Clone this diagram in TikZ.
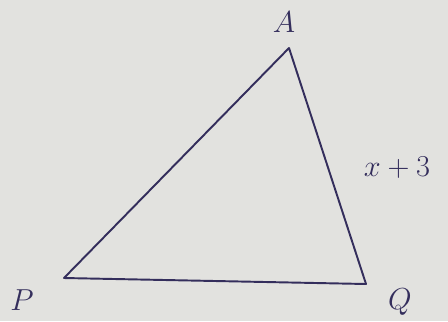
\documentclass[tikz,border=0pt]{standalone}
\usepackage{tikz}
\usetikzlibrary{calc}
\definecolor{papel}{RGB}{226,226,223}
\definecolor{tinta}{RGB}{52,46,92}

\begin{document}
\begin{tikzpicture}[x=0.02cm, y=-0.02cm, font=\LARGE]
        \useasboundingbox[fill=papel] (0,0) rectangle (448,321);
        % vertices del triangulo
        \coordinate (A) at (289,48);
        \coordinate (P) at (64,278);
        \coordinate (Q) at (366,284);
        \draw[tinta, line width=1.1pt, line join=round] (P) -- (A) -- (Q) -- cycle;
        % rotulos
        \node[tinta] (lA) at (284,22) {$A$};
        \node[tinta] (lP) at (22,300) {$P$};
        \node[tinta] (lQ) at (400,302) {$Q$};
        \node[tinta] (lAQ) at (397,168) {$x+3$};
      \end{tikzpicture}
\end{document}
